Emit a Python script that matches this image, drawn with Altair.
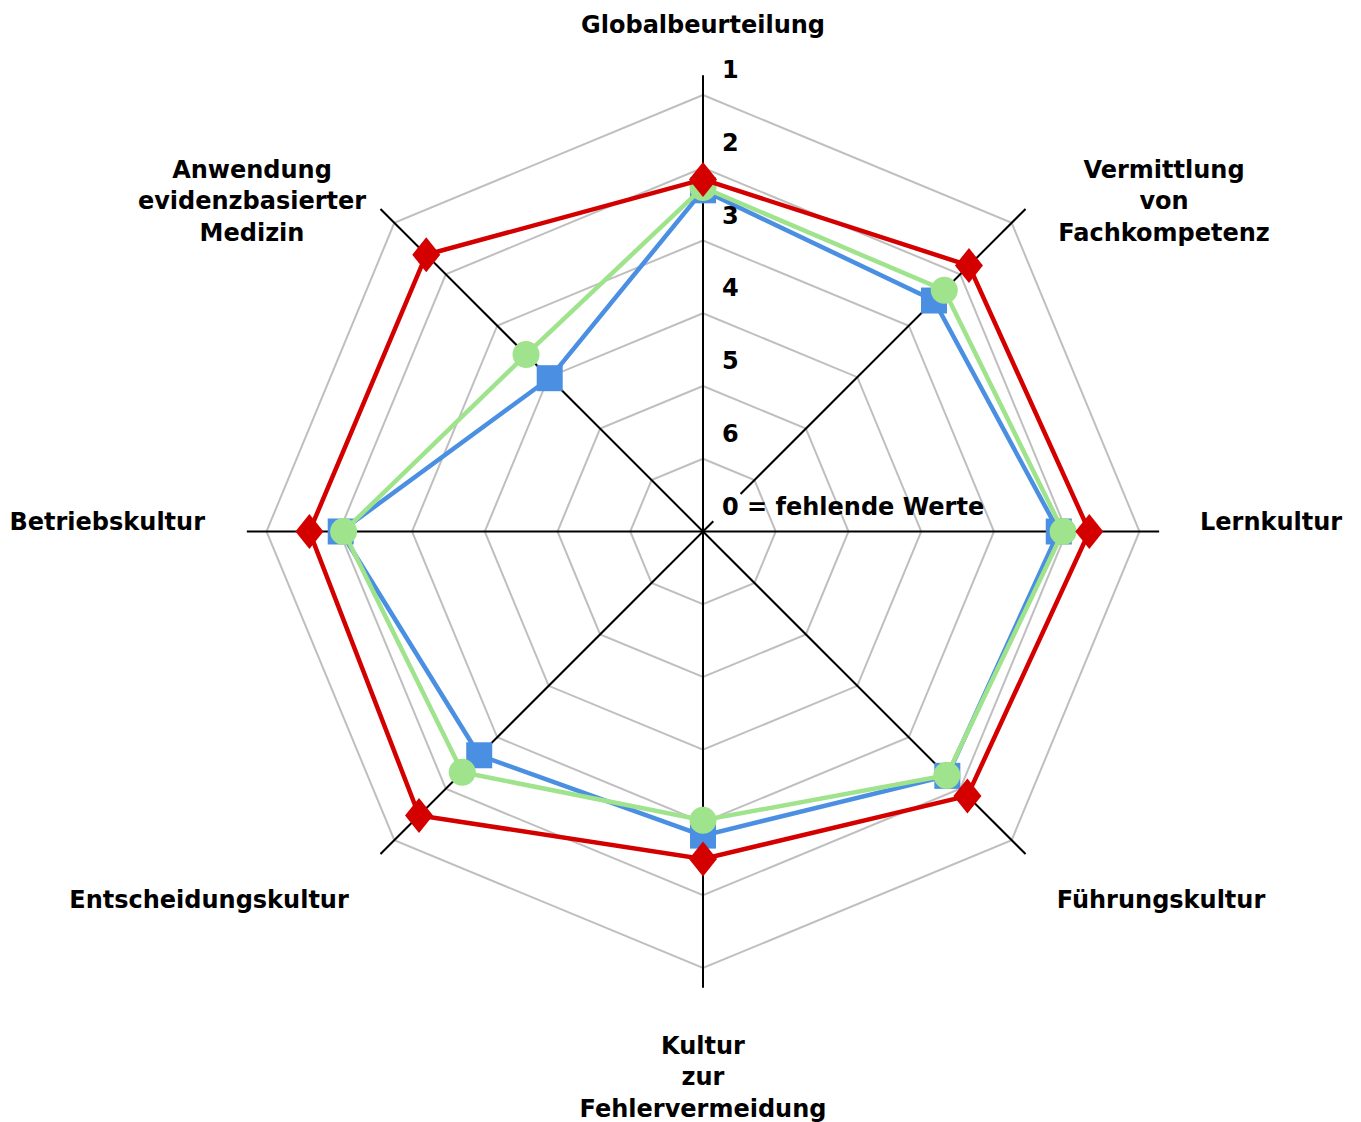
import math
import altair as alt
import pandas as pd

# ---------------- data ----------------
categories = [
    "Globalbeurteilung",
    "Vermittlung von Fachkompetenz",
    "Lernkultur",
    "Führungskultur",
    "Kultur zur Fehlervermeidung",
    "Entscheidungskultur",
    "Betriebskultur",
    "Anwendung evidenzbasierter Medizin",
]
category_labels = [
    "Globalbeurteilung",
    "Vermittlung\nvon\nFachkompetenz",
    "Lernkultur",
    "Führungskultur",
    "Kultur\nzur\nFehlervermeidung",
    "Entscheidungskultur",
    "Betriebskultur",
    "Anwendung\nevidenzbasierter\nMedizin",
]
series_names = ["Serie 1", "Serie 2", "Serie 3"]
values_blue = [2.31, 2.51, 2.11, 2.25, 2.82, 2.65, 2.02, 4.02]
values_green = [2.27, 2.31, 2.05, 2.26, 3.03, 2.32, 2.06, 3.56]
values_red = [2.16, 1.83, 1.69, 1.86, 2.50, 1.48, 1.59, 1.62]
tick_levels = [1, 2, 3, 4, 5, 6, 0]
tick_labels = ["1", "2", "3", "4", "5", "6", "0 = fehlende Werte"]

# ---------------- layout / style ----------------
K = 72.75                      # px per radial unit
W, H = 1340, 1100
CX, CY = 695, 523.5            # centre in plot-area px
XDOM = [-CX / K, (W - CX) / K]
YDOM = [-(H - CY) / K, CY / K]
FONT = "DejaVu Sans"
FS = 24
COLORS = {"Serie 1": "#4a8fe2", "Serie 2": "#9fe38c", "Serie 3": "#d40000"}
SHAPES = {"Serie 1": "square", "Serie 2": "circle",
          "Serie 3": "M0,-1L0.8,0L0,1L-0.8,0Z"}
SIZES = {"Serie 1": 676, "Serie 2": 729, "Serie 3": 1225}

xs = alt.Scale(domain=XDOM, nice=False, zero=False)
ys = alt.Scale(domain=YDOM, nice=False, zero=False)
RADIUS = "datum.level == 0 ? 0 : 7 - datum.level"
XEXPR = "datum.r * sin(datum.idx * PI / 4)"
YEXPR = "datum.r * cos(datum.idx * PI / 4)"

# rings (grid octagons)
ring_rows = []
for lv in [1, 2, 3, 4, 5, 6]:
    for i in range(9):
        ring_rows.append({"level": lv, "idx": i % 8, "ord": i})
rings = (
    alt.Chart(pd.DataFrame(ring_rows))
    .transform_calculate(r=RADIUS)
    .transform_calculate(x=XEXPR, y=YEXPR)
    .mark_line(color="#bfbfbf", strokeWidth=2)
    .encode(
        x=alt.X("x:Q", scale=xs, axis=None),
        y=alt.Y("y:Q", scale=ys, axis=None),
        detail="level:N",
        order="ord:Q",
    )
)

# spokes
spoke_rows = []
for i in range(8):
    if i == 1:
        spoke_rows.append({"idx": i, "r0": 0.0, "r1": 0.2})
        spoke_rows.append({"idx": i, "r0": 0.73, "r1": 6.27})
    else:
        spoke_rows.append({"idx": i, "r0": 0.0, "r1": 6.27})
spokes = (
    alt.Chart(pd.DataFrame(spoke_rows))
    .transform_calculate(
        x="datum.r0 * sin(datum.idx * PI / 4)",
        y="datum.r0 * cos(datum.idx * PI / 4)",
        x2="datum.r1 * sin(datum.idx * PI / 4)",
        y2="datum.r1 * cos(datum.idx * PI / 4)",
    )
    .mark_rule(color="black", strokeWidth=2)
    .encode(
        x=alt.X("x:Q", scale=xs, axis=None),
        y=alt.Y("y:Q", scale=ys, axis=None),
        x2="x2:Q",
        y2="y2:Q",
    )
)

# tick labels along the top axis
ticks = (
    alt.Chart(pd.DataFrame({"level": tick_levels, "label": tick_labels}))
    .transform_calculate(r=RADIUS, idx="0")
    .transform_calculate(x=XEXPR, y=YEXPR)
    .mark_text(align="left", baseline="middle", dx=19, dy=-24,
               font=FONT, fontSize=FS, fontWeight="bold", color="black")
    .encode(
        x=alt.X("x:Q", scale=xs, axis=None),
        y=alt.Y("y:Q", scale=ys, axis=None),
        text="label:N",
    )
)

# category labels (anchor = first text line, px offsets from centre; layout only)
LABEL_PX = [(0, 506), (461, 361), (497, 9), (458, -369),
            (0, -515), (-494, -369), (-498, 9), (-451, 361)]
LABEL_ALIGN = ["center", "center", "left", "center",
               "center", "center", "right", "center"]
lab_df = pd.DataFrame({
    "cat": categories,
    "label": category_labels,
    "x": [p[0] / K for p in LABEL_PX],
    "y": [p[1] / K for p in LABEL_PX],
    "al": LABEL_ALIGN,
})
label_layers = []
for al in ["center", "left", "right"]:
    label_layers.append(
        alt.Chart(lab_df)
        .transform_filter(alt.datum.al == al)
        .mark_text(align=al, baseline="middle", lineBreak="\n", lineHeight=31.5,
                   font=FONT, fontSize=FS, fontWeight="bold", color="black")
        .encode(
            x=alt.X("x:Q", scale=xs, axis=None),
            y=alt.Y("y:Q", scale=ys, axis=None),
            text="label:N",
        )
    )

# series
series_layers = []
for name, vals in zip(series_names, [values_blue, values_green, values_red]):
    rows = []
    for i in range(9):
        rows.append({"series": name, "cat": categories[i % 8],
                     "level": vals[i % 8], "idx": i % 8, "ord": i})
    base = (
        alt.Chart(pd.DataFrame(rows))
        .transform_calculate(r=RADIUS)
        .transform_calculate(x=XEXPR, y=YEXPR)
        .encode(
            x=alt.X("x:Q", scale=xs, axis=None),
            y=alt.Y("y:Q", scale=ys, axis=None),
        )
    )
    line = base.mark_line(color=COLORS[name], strokeWidth=4.5).encode(order="ord:Q")
    pts = base.transform_filter(alt.datum.ord < 8).mark_point(
        shape=SHAPES[name], size=SIZES[name], filled=True, opacity=1,
        color=COLORS[name], strokeWidth=0)
    series_layers += [line, pts]

chart = (
    alt.layer(rings, spokes, *series_layers, ticks, *label_layers)
    .properties(width=W, height=H, padding=0)
    .configure_view(stroke=None)
)
chart.save("out.html", embed_options={"renderer": "svg", "actions": False})
